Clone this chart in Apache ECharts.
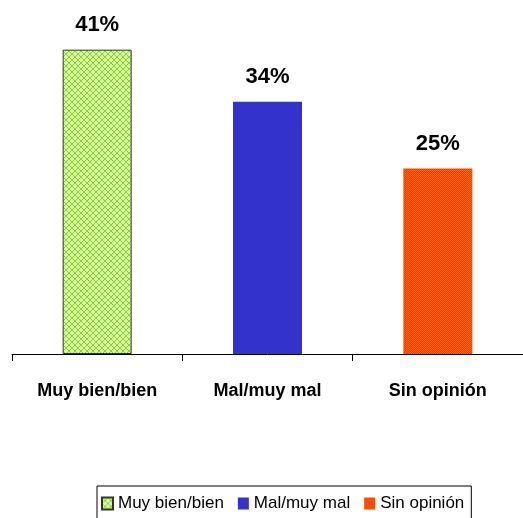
<!DOCTYPE html>
<html>
<head>
<meta charset="utf-8">
<script src="https://cdn.jsdelivr.net/npm/echarts@6/dist/echarts.min.js"></script>
<style>
  html, body { margin: 0; padding: 0; background: #fff; }
  #chart { width: 523px; height: 518px; }
</style>
</head>
<body>
<div id="chart"></div>
<script>
// Survey answers and their shares (%)
const categories = ['Muy bien/bien', 'Mal/muy mal', 'Sin opinión'];
const values = [41, 34, 25];
const valueLabels = ['41%', '34%', '25%'];

const font = '"Liberation Sans", Arial, sans-serif';

// Small tiled fills for the patterned bars
function latticeFill() {
  const c = document.createElement('canvas');
  c.width = 6; c.height = 6;
  const g = c.getContext('2d');
  g.fillStyle = '#ccff99';
  g.fillRect(0, 0, 6, 6);
  g.fillStyle = '#99cc33';
  for (let i = 0; i < 6; i++) {
    g.fillRect(i, i, 1, 1);
    g.fillRect(5 - i, i, 1, 1);
  }
  g.fillStyle = '#e6ffcc';
  g.fillRect(3, 0, 1, 1);
  g.fillRect(0, 3, 1, 1);
  return { image: c, repeat: 'repeat' };
}
function checkerFill() {
  const c = document.createElement('canvas');
  c.width = 2; c.height = 2;
  const g = c.getContext('2d');
  g.fillStyle = '#ff3300';
  g.fillRect(0, 0, 2, 2);
  g.fillStyle = '#ff6600';
  g.fillRect(0, 0, 1, 1);
  g.fillRect(1, 1, 1, 1);
  return { image: c, repeat: 'repeat' };
}

const styles = [
  { color: latticeFill(), borderColor: '#333333', borderWidth: 1 },
  { color: '#3333cc' },
  { color: checkerFill() }
];

const series = categories.map((name, i) => ({
  name: name,
  type: 'bar',
  stack: 'all',
  barWidth: 69,
  data: categories.map((_, j) => (j === i ? values[i] : null)),
  itemStyle: styles[i],
  label: {
    show: true,
    position: 'top',
    distance: 14,
    formatter: () => valueLabels[i],
    fontFamily: font,
    fontWeight: 'bold',
    fontSize: 22,
    color: '#000'
  }
}));

const chart = echarts.init(document.getElementById('chart'), null, { renderer: 'canvas' });
chart.setOption({
  animation: false,
  grid: { left: 12, right: 0, top: 20, bottom: 164 },
  legend: {
    data: categories,
    left: 97,
    top: 486,
    itemWidth: 11,
    itemHeight: 12,
    itemGap: 14,
    padding: [9, 7, 12, 4],
    borderColor: '#000',
    borderWidth: 1,
    borderRadius: 0,
    icon: 'rect',
    textStyle: {
      fontFamily: font,
      fontSize: 17,
      color: '#000',
      padding: [0, 0, 0, 0]
    }
  },
  xAxis: {
    type: 'category',
    data: categories,
    axisLine: { lineStyle: { color: '#000', width: 1 } },
    axisTick: { show: true, interval: 0, length: 7, lineStyle: { color: '#000' } },
    axisLabel: {
      interval: 0,
      margin: 28,
      fontFamily: font,
      fontWeight: 'bold',
      fontSize: 18,
      color: '#000'
    }
  },
  yAxis: {
    type: 'value',
    min: 0,
    max: 45,
    show: false,
    splitLine: { show: false }
  },
  series: series
});
</script>
</body>
</html>
